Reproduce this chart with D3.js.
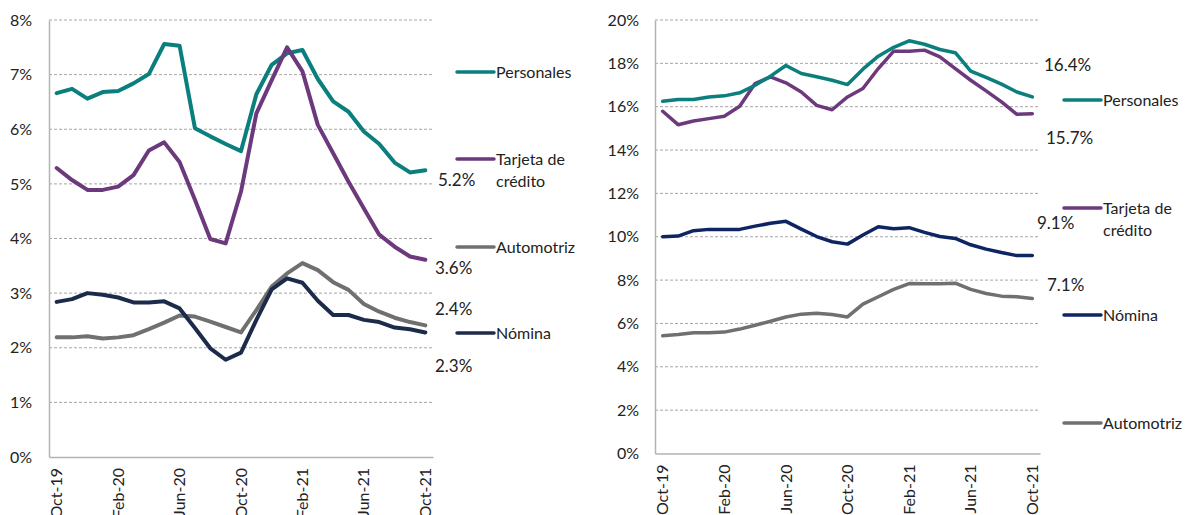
<!DOCTYPE html>
<html><head><meta charset="utf-8">
<script src="https://cdn.jsdelivr.net/npm/d3@7"></script>
<style>
body{margin:0;background:#fff;}
svg{display:block;font-family:Lato, "Open Sans", sans-serif;}
</style></head>
<body><svg id="c" width="1186" height="515"></svg>
<script>
const months = ["Oct-19","Nov-19","Dec-19","Jan-20","Feb-20","Mar-20","Apr-20","May-20","Jun-20","Jul-20","Aug-20","Sep-20","Oct-20","Nov-20","Dec-20","Jan-21","Feb-21","Mar-21","Apr-21","May-21","Jun-21","Jul-21","Aug-21","Sep-21","Oct-21"];
const tickLabels = ["Oct-19","Feb-20","Jun-20","Oct-20","Feb-21","Jun-21","Oct-21"];

// Left chart
const leftPersonales = [6.66,6.74,6.56,6.68,6.70,6.84,7.01,7.56,7.53,6.02,5.87,5.73,5.60,6.64,7.18,7.39,7.45,6.92,6.51,6.32,5.96,5.73,5.39,5.21,5.25];
const leftTarjeta = [5.29,5.07,4.89,4.89,4.95,5.16,5.61,5.76,5.40,4.71,3.99,3.91,4.86,6.29,6.90,7.50,7.06,6.08,5.56,5.04,4.55,4.07,3.85,3.67,3.61];
const leftAutomotriz = [2.19,2.19,2.21,2.17,2.19,2.23,2.34,2.46,2.59,2.57,2.48,2.38,2.28,2.69,3.12,3.36,3.55,3.42,3.20,3.06,2.80,2.66,2.55,2.47,2.41];
const leftNomina = [2.84,2.89,3.00,2.97,2.92,2.83,2.83,2.85,2.72,2.36,1.99,1.78,1.91,2.51,3.07,3.27,3.19,2.86,2.60,2.60,2.51,2.47,2.37,2.34,2.28];
const leftTicks = [0,1,2,3,4,5,6,7,8];

// Right chart
const rightPersonales = [16.25,16.33,16.33,16.45,16.50,16.64,16.99,17.41,17.90,17.53,17.38,17.22,17.02,17.73,18.33,18.74,19.04,18.88,18.64,18.49,17.64,17.35,17.04,16.68,16.45];
const rightTarjeta = [15.79,15.17,15.34,15.45,15.56,16.02,17.07,17.38,17.10,16.68,16.06,15.86,16.45,16.84,17.76,18.56,18.56,18.61,18.30,17.76,17.22,16.73,16.22,15.65,15.68];
const rightNomina = [10.00,10.03,10.28,10.34,10.34,10.34,10.49,10.62,10.71,10.35,10.01,9.77,9.66,10.08,10.46,10.37,10.42,10.20,10.01,9.92,9.63,9.43,9.27,9.13,9.13];
const rightAutomotriz = [5.43,5.49,5.57,5.57,5.60,5.74,5.92,6.10,6.30,6.43,6.47,6.41,6.30,6.89,7.23,7.57,7.84,7.83,7.83,7.86,7.57,7.38,7.26,7.23,7.15];
const rightTicks = [0,2,4,6,8,10,12,14,16,18,20];

const leftEndLabels = ["5.2%","3.6%","2.4%","2.3%"];
const rightEndLabels = ["16.4%","15.7%","9.1%","7.1%"];

const C = {pers:"#0a7f7e", tarj:"#6c3a7c", auto:"#707070", nomL:"#1d2b4b", nomR:"#0f2563"};
const FONT = "Lato, 'Open Sans', sans-serif";

const svg = d3.select("#c");

function chart(cfg){
  const g = svg.append("g");
  const x = d3.scaleBand().domain(months).range([cfg.x0, cfg.x1]);
  const y = d3.scaleLinear().domain([0, cfg.ymax]).range([cfg.yb, cfg.yt]);
  const cx = d => x(d) + x.bandwidth()/2;
  // gridlines
  g.append("g").selectAll("line").data(cfg.ticks.filter(t=>t>0)).join("line")
    .attr("x1", cfg.x0).attr("x2", cfg.x1)
    .attr("y1", d=>y(d)).attr("y2", d=>y(d))
    .attr("stroke","#a6a6a6").attr("stroke-width",1).attr("stroke-dasharray","3,2");
  // y axis
  const ya = d3.axisLeft(y).tickValues(cfg.ticks).tickFormat(d=>d+"%").tickSize(0).tickPadding(cfg.ypad);
  const yg = g.append("g").attr("transform",`translate(${cfg.x0},0)`).call(ya);
  yg.select(".domain").attr("stroke","#b3b3b3").attr("stroke-width",1.5);
  yg.selectAll("text").attr("font-size",16).attr("fill","#222").attr("font-family",FONT);
  // x axis
  const xa = d3.axisBottom(x).tickValues(tickLabels).tickSize(0).tickPadding(0);
  const xg = g.append("g").attr("transform",`translate(0,${cfg.yb})`).call(xa);
  xg.select(".domain").attr("stroke","#b3b3b3").attr("stroke-width",1.5);
  xg.selectAll("text").attr("font-size",16).attr("fill","#222").attr("font-family",FONT)
    .attr("text-anchor","end").attr("dy","0.35em")
    .attr("transform",`translate(0,${cfg.xpad}) rotate(-90)`).attr("x",0).attr("y",0);
  // lines
  const line = d3.line().x((d,i)=>cx(months[i])).y(d=>y(d));
  cfg.series.forEach(s=>{
    g.append("path").datum(s.values).attr("d",line).attr("fill","none")
      .attr("stroke",s.color).attr("stroke-width",cfg.lw).attr("stroke-linejoin","round").attr("stroke-linecap","round");
  });
  // end labels
  cfg.endLabels.forEach(l=>{
    g.append("text").attr("x",l.x).attr("y",l.y).attr("dy","0.35em").attr("font-size",17).attr("fill","#222").text(l.t);
  });
  // legend
  cfg.legend.forEach(l=>{
    g.append("line").attr("x1",cfg.lx).attr("x2",cfg.lx+37).attr("y1",l.y).attr("y2",l.y)
      .attr("stroke",l.color).attr("stroke-width",3.5).attr("stroke-linecap","round");
    const t = g.append("text").attr("x",cfg.lx+39).attr("y",l.y).attr("font-size",16).attr("fill","#222");
    l.lines.forEach((s,i)=>t.append("tspan").attr("x",cfg.lx+39).attr("dy", i===0?"0.35em":"1.4em").text(s));
  });
}

chart({x0:49,x1:433,yb:457,yt:20,ymax:8,ticks:leftTicks,ypad:17,lw:4,xpad:11,
  series:[
    {values:leftAutomotriz,color:C.auto},
    {values:leftNomina,color:C.nomL},
    {values:leftPersonales,color:C.pers},
    {values:leftTarjeta,color:C.tarj}],
  endLabels:[{x:438,y:180,t:leftEndLabels[0]},{x:435,y:268,t:leftEndLabels[1]},{x:435,y:309,t:leftEndLabels[2]},{x:435,y:366,t:leftEndLabels[3]}],
  lx:457,
  legend:[
    {y:72,color:C.pers,lines:["Personales"]},
    {y:159,color:C.tarj,lines:["Tarjeta de","crédito"]},
    {y:247,color:C.auto,lines:["Automotriz"]},
    {y:333,color:C.nomL,lines:["Nómina"]}]
});

chart({x0:655,x1:1040,yb:453.5,yt:20,ymax:20,ticks:rightTicks,ypad:16,lw:3.5,xpad:11,
  series:[
    {values:rightAutomotriz,color:C.auto},
    {values:rightNomina,color:C.nomR},
    {values:rightTarjeta,color:C.tarj},
    {values:rightPersonales,color:C.pers}],
  endLabels:[{x:1044,y:65,t:rightEndLabels[0]},{x:1046,y:138,t:rightEndLabels[1]},{x:1037,y:223,t:rightEndLabels[2]},{x:1047,y:285,t:rightEndLabels[3]}],
  lx:1064,
  legend:[
    {y:100,color:C.pers,lines:["Personales"]},
    {y:208,color:C.tarj,lines:["Tarjeta de","crédito"]},
    {y:315,color:C.nomR,lines:["Nómina"]},
    {y:423,color:C.auto,lines:["Automotriz"]}]
});
</script>
</body></html>
